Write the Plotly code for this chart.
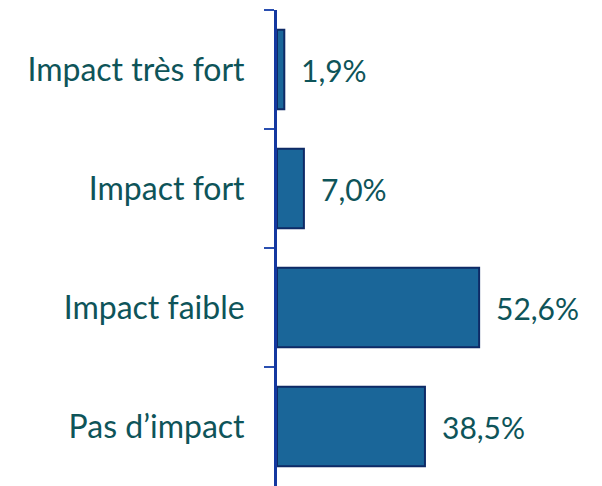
import plotly.graph_objects as go

categories = ["Impact très fort", "Impact fort", "Impact faible", "Pas d’impact"]
values = [1.9, 7.0, 52.6, 38.5]
labels = ["1,9%", "7,0%", "52,6%", "38,5%"]

TEXT = "#0E5459"
FONT = "Lato"

fig = go.Figure(go.Bar(
    x=values, y=categories, orientation="h",
    marker=dict(color="#1A6699", line=dict(color="#0E2A66", width=2)),
    width=0.67, hoverinfo="skip",
))

for v, c, t in zip(values, categories, labels):
    fig.add_annotation(x=v, y=c, text=t, showarrow=False, xanchor="left",
                       xshift=15, font=dict(family=FONT, size=30, color=TEXT))

fig.update_layout(
    width=594, height=478,
    margin=dict(l=269, r=56, t=2, b=0),
    paper_bgcolor="white", plot_bgcolor="white",
    showlegend=False,
    xaxis=dict(range=[0, 70], visible=False, fixedrange=True),
    yaxis=dict(autorange="reversed", showline=True, linecolor="#1438A0", linewidth=3,
               ticks="outside", ticklen=10, tickwidth=2, tickcolor="#2A4FB0",
               tickson="boundaries", showgrid=False, zeroline=False,
               ticklabelstandoff=23,
               tickfont=dict(family=FONT, size=32, color=TEXT)),
)

fig.write_html("out.html")
